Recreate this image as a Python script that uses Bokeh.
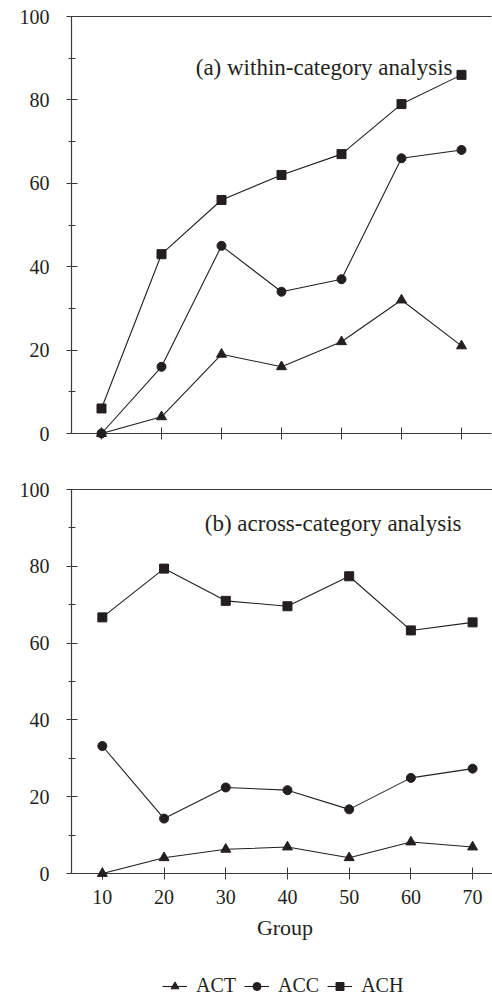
from bokeh.plotting import figure
from bokeh.models import Range1d, FixedTicker, Label, Legend, LegendItem, LinearAxis
from bokeh.layouts import column
from bokeh.embed import file_html
from bokeh.resources import INLINE

groups = [10, 20, 30, 40, 50, 60, 70]
series_names = ["ACT", "ACC", "ACH"]
marker_types = ["triangle", "circle", "square"]

# (a) within-category analysis
a_act = [0, 4, 19, 16, 22, 32, 21]
a_acc = [0, 16, 45, 34, 37, 66, 68]
a_ach = [6, 43, 56, 62, 67, 79, 86]

# (b) across-category analysis
b_act = [0, 4.1, 6.3, 6.9, 4.1, 8.2, 6.9]
b_acc = [33.2, 14.3, 22.4, 21.7, 16.7, 24.9, 27.3]
b_ach = [66.7, 79.4, 71.0, 69.6, 77.4, 63.3, 65.4]

y_major = [0, 20, 40, 60, 80, 100]
y_minor = [10, 30, 50, 70, 90]
x_label = "Group"
title_a = "(a) within-category analysis"
title_b = "(b) across-category analysis"

FONT = "Liberation Serif"
INK = "#231f20"
AX = "#3a3a3a"
SIZES = {"triangle": 10, "circle": 9, "square": 9}


def style_axes(p, show_x_labels):
    for ax in p.yaxis:
        ax.ticker = FixedTicker(ticks=y_major, minor_ticks=y_minor)
        ax.major_tick_in = 6
        ax.major_tick_out = 5
        ax.minor_tick_in = 4
        ax.minor_tick_out = 3
        ax.major_label_standoff = 17
        ax.major_label_text_font = FONT
        ax.major_label_text_font_size = "20px"
        ax.major_label_text_color = INK
        ax.axis_line_color = AX
        ax.major_tick_line_color = AX
        ax.minor_tick_line_color = AX
        ax.axis_line_width = 1.2
    for ax in p.xaxis:
        ax.ticker = FixedTicker(ticks=groups, minor_ticks=[])
        ax.major_tick_in = 6
        ax.major_tick_out = 6
        ax.minor_tick_line_color = None
        ax.axis_line_color = AX
        ax.major_tick_line_color = AX
        ax.axis_line_width = 1.2
        ax.major_label_text_font = FONT
        ax.major_label_text_font_size = "20px"
        ax.major_label_text_color = INK
        ax.major_label_standoff = 10
        if not show_x_labels:
            ax.major_label_text_color = None
    top = LinearAxis(ticker=FixedTicker(ticks=[], minor_ticks=[]),
                     major_tick_line_color=None, minor_tick_line_color=None,
                     major_label_text_font_size="0px", axis_line_color=AX,
                     axis_line_width=1.2)
    p.add_layout(top, "above")
    p.grid.visible = False
    p.outline_line_color = None


def draw_series(p, data):
    items = []
    for name, mk, ys in zip(series_names, marker_types, data):
        lr = p.line(groups, ys, line_color=INK, line_width=1.1)
        sr = p.scatter(groups, ys, marker=mk, size=SIZES[mk], fill_color=INK,
                       line_color=INK, level="overlay")
        items.append(LegendItem(label=name, renderers=[lr, sr]))
    return items


# Top panel
p1 = figure(frame_width=420, frame_height=417, x_range=Range1d(5, 75),
            y_range=Range1d(0, 100), output_backend="svg", toolbar_location=None,
            min_border_left=71, min_border_top=16, min_border_bottom=40,
            min_border_right=1)
style_axes(p1, False)
draw_series(p1, [a_act, a_acc, a_ach])
p1.add_layout(Label(x=47.1, y=87.7, text=title_a, text_font=FONT,
                    text_font_size="23px", text_color=INK, text_align="center",
                    text_baseline="alphabetic"))

# Bottom panel
p2 = figure(frame_width=427, frame_height=384, x_range=Range1d(5, 74.2),
            y_range=Range1d(0, 100), output_backend="svg", toolbar_location=None,
            min_border_left=65, min_border_top=16, min_border_bottom=80,
            min_border_right=0)
style_axes(p2, True)
bx = p2.below[0]
bx.axis_label = x_label
bx.axis_label_text_font = FONT
bx.axis_label_text_font_size = "22px"
bx.axis_label_text_font_style = "normal"
bx.axis_label_text_color = INK
bx.axis_label_standoff = 8
draw_series(p2, [b_act, b_acc, b_ach])
p2.add_layout(Label(x=47.4, y=91.2, text=title_b, text_font=FONT,
                    text_font_size="23px", text_color=INK, text_align="center",
                    text_baseline="alphabetic"))

# Legend strip (series drawn off-range so only the legend keys show)
p3 = figure(width=492, height=44, x_range=Range1d(0, 1), y_range=Range1d(0, 1),
            output_backend="svg", toolbar_location=None, min_border=0,
            x_axis_location=None, y_axis_location=None)
p3.grid.visible = False
p3.outline_line_color = None
items = draw_series(p3, [b_act, b_acc, b_ach])
legend = Legend(items=items, orientation="horizontal", location=(91, 0),
                glyph_width=25, glyph_height=20, label_standoff=9, spacing=8,
                padding=0, margin=0, border_line_color=None,
                background_fill_alpha=0, label_text_font=FONT,
                label_text_font_size="20px", label_text_color=INK)
p3.add_layout(legend, "center")

layout = column(p1, p2, p3, spacing=0)
open("out.html", "w").write(file_html(layout, INLINE))
